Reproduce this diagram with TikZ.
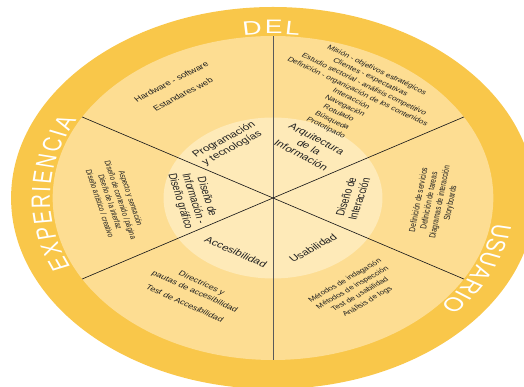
\documentclass[tikz,border=0pt]{standalone}
\usepackage{fontspec}
\setmainfont{Liberation Sans}
\usetikzlibrary{decorations.text}
\definecolor{ringc}{RGB}{249,199,74}
\definecolor{sectc}{RGB}{253,221,146}
\definecolor{innc}{RGB}{254,234,184}
\begin{document}
\begin{tikzpicture}[x=1pt,y=1pt,
  lbl/.style={font=\fontsize{8.8}{10}\selectfont, align=center, inner sep=0pt, text=black!88},
  sml/.style={font=\fontsize{6.4}{8.6}\selectfont, align=center, inner sep=0pt, text=black!88},
  divl/.style={line width=0.6pt, draw=black!90},
  vdivl/.style={line width=0.6pt, draw=black!65}]
\useasboundingbox (-273,-189) rectangle (251,198);
\begin{scope}[transform canvas={xscale=1.36}]
  % rings
  \fill[ringc] (0,0) ellipse [x radius=192.6, y radius=191];
  \fill[sectc] (0,0) circle [radius=162];
  \fill[innc] (0,0) circle [radius=80.5];
  % dividers
  \coordinate (O) at (0,0);
  \coordinate (e30) at (30:162);
  \coordinate (e90) at (90:162);
  \coordinate (e150) at (150:162);
  \coordinate (e210) at (210:162);
  \coordinate (e270) at (270:162);
  \coordinate (e330) at (330:162);
  \draw[vdivl] (O) -- (e90);
  \draw[vdivl] (O) -- (e270);
  \draw[divl] (O) -- (e30);
  \draw[divl] (O) -- (e150);
  \draw[divl] (O) -- (e210);
  \draw[divl] (O) -- (e330);
  % ring words
  \path[decorate, decoration={text along path, text={|\fontsize{19.5}{19.5}\selectfont|DEL}, text align=fit to path, text color=white}]
    (97.6:164) arc[start angle=97.6, end angle=83.2, radius=164];
  \path[decorate, decoration={text along path, text={|\fontsize{19.5}{19.5}\selectfont|EXPERIENCIA}, text align=fit to path, text color=white}]
    (204.9:164) arc[start angle=204.9, end angle=151.6, radius=164];
  \path[decorate, decoration={text along path, text={|\fontsize{19.5}{19.5}\selectfont|USUARIO}, text align=fit to path, text color=white}]
    (-8.8:164) arc[start angle=-8.8, end angle=-41.5, radius=164];
  % inner labels
  \node[lbl, rotate=36] (prog) at (-33,54) {Programación\\y tecnologías};
  \node[lbl, rotate=-35] (arq) at (26.5,51) {Arquitectura\\de la\\Información};
  \node[lbl, rotate=-77] (disinf) at (-58.6,-1) {Diseño de\\Información -\\Diseño gráfico};
  \node[lbl, rotate=76] (disint) at (58.5,0) {Diseño de\\Interacción};
  \node[lbl, rotate=-30.5] (acc) at (-27.2,-54) {Accesibilidad};
  \node[lbl, rotate=37] (usa) at (29.4,-50) {Usabilidad};
  % sector texts
  \node[sml, font=\fontsize{7.2}{8}\selectfont, rotate=35] (hw) at (-70.5,110)
    {Hardware - software\\[7pt]Estandares web};
  \node[sml, rotate=-33] (mis) at (57.5,99)
    {Misión - objetivos estratégicos\\Clientes - expectativas\\Estudio sectorial - análisis competitivo\\Definición - organización de los contenidos\\Interacción\\Navegación\\Rotulado\\Búsqueda\\Prototipado};
  \node[sml, font=\fontsize{6.2}{7.8}\selectfont, rotate=-76] (asp) at (-115.8,-3)
    {Aspecto y sensación\\Diseño de contenido / página\\Diseño de la interfaz\\Diseño artístico / creativo};
  \node[sml, font=\fontsize{6.5}{7.9}\selectfont, rotate=81.6] (def) at (119,-3.5)
    {Definición de servicios\\Definición de tareas\\Diagramas de interacción\\Storyboards};
  \node[sml, font=\fontsize{7}{9.7}\selectfont, rotate=-31.5] (dir) at (-58.5,-95)
    {Directrices y\\pautas de accesibilidad\\[4.6pt]Test de Accesibilidad};
  \node[sml, font=\fontsize{6.4}{8.9}\selectfont, rotate=38] (met) at (61.3,-93.3)
    {Métodos de indagación\\Métodos de inspección\\Test de usabilidad\\Análisis de logs};
\end{scope}
\end{tikzpicture}
\end{document}
